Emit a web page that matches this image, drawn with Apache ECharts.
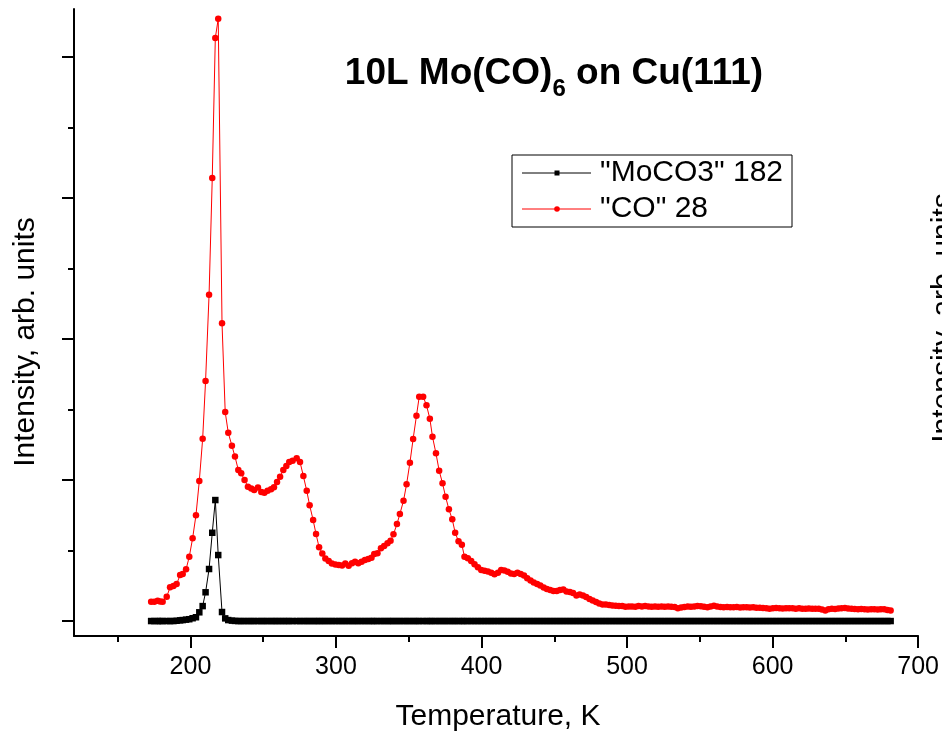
<!DOCTYPE html>
<html><head><meta charset="utf-8">
<script src="https://cdn.jsdelivr.net/npm/echarts@6/dist/echarts.min.js"></script>
<style>html,body{margin:0;padding:0;background:#fff}#c{width:942px;height:734px}</style>
</head><body><div id="c"></div>
<script>
const temperatures = [
173.0,175.2,177.5,179.2,180.9,183.7,186.0,188.3,190.5,192.9,
194.7,197.0,199.2,201.5,203.8,206.1,208.4,210.4,212.8,215.0,
217.1,219.1,221.7,223.9,226.0,228.5,230.6,232.9,234.9,237.2,
239.5,241.8,243.8,246.4,248.7,250.8,253.0,255.4,257.4,259.5,
261.6,263.8,265.9,267.9,270.2,273.0,275.3,277.6,279.9,281.9,
284.3,286.3,288.4,290.6,292.7,295.0,297.2,299.6,301.9,304.2,
306.4,308.7,311.0,313.1,315.3,317.6,319.9,322.2,324.4,326.3,
328.5,330.9,333.1,335.4,337.5,339.5,341.9,343.9,346.4,348.5,
350.8,353.0,355.3,357.2,359.9,362.2,364.5,366.3,368.7,370.9,
373.2,375.3,377.6,379.9,381.9,384.2,386.5,388.3,390.6,392.9,
395.2,397.5,399.8,402.1,404.4,406.7,408.9,411.3,
413.5,415.7,418.0,420.2,422.4,424.7,426.9,429.2,431.4,433.7,
435.9,438.2,440.4,442.7,444.9,447.2,449.4,451.7,453.9,456.2,
458.4,460.7,462.9,465.2,467.4,469.7,471.9,474.2,476.4,478.7,
480.9,483.2,485.4,487.7,489.9,492.2,494.4,496.7,498.9,501.2,
503.4,505.7,507.9,510.2,512.4,514.7,516.9,519.2,521.4,523.7,
525.9,528.2,530.4,532.7,534.9,537.2,539.4,541.7,543.9,546.2,
548.4,550.7,552.9,555.2,557.4,559.7,561.9,564.2,566.4,568.7,
570.9,573.2,575.4,577.7,579.9,582.2,584.4,586.7,588.9,591.2,
593.4,595.7,597.9,600.2,602.4,604.7,606.9,609.2,611.4,613.7,
615.9,618.2,620.4,622.7,624.9,627.2,629.4,631.7,633.9,636.2,
638.4,640.7,642.9,645.2,647.4,649.7,651.9,654.2,656.4,658.7,
660.9,663.2,665.4,667.7,669.9,672.2,674.4,676.7,678.9,681.1
];
const coIntensity = [
0.137,0.137,0.144,0.138,0.137,0.172,0.239,0.248,0.262,0.326,
0.333,0.367,0.456,0.587,0.750,0.993,1.293,1.702,2.314,3.142,
4.135,4.270,2.111,1.482,1.335,1.243,1.166,1.071,1.048,1.000,
0.952,0.940,0.929,0.947,0.915,0.910,0.924,0.934,0.948,0.986,
1.023,1.071,1.099,1.128,1.137,1.154,1.128,1.028,0.924,0.821,
0.716,0.617,0.523,0.479,0.443,0.426,0.408,0.401,0.397,0.394,
0.408,0.392,0.409,0.421,0.409,0.421,0.433,0.440,0.449,0.475,
0.480,0.516,0.532,0.551,0.570,0.615,0.688,0.759,0.853,0.970,
1.123,1.291,1.456,1.591,1.591,1.530,1.435,1.307,1.189,1.066,
0.977,0.882,0.792,0.721,0.626,0.565,0.541,0.456,0.445,0.426,
0.402,0.381,0.362,0.357,0.352,0.343,0.331,0.343,
0.362,0.358,0.350,0.337,0.333,0.343,0.333,0.323,0.303,0.287,
0.273,0.262,0.252,0.238,0.227,0.220,0.213,0.213,0.220,0.223,
0.209,0.206,0.199,0.181,0.188,0.181,0.170,0.156,0.145,0.135,
0.124,0.118,0.117,0.113,0.110,0.109,0.106,0.106,0.101,0.103,
0.104,0.101,0.106,0.103,0.106,0.104,0.101,0.103,0.101,0.104,
0.101,0.103,0.101,0.099,0.090,0.096,0.099,0.103,0.101,0.104,
0.106,0.105,0.101,0.097,0.103,0.109,0.103,0.099,0.097,0.099,
0.097,0.097,0.099,0.096,0.097,0.097,0.096,0.098,0.094,0.095,
0.092,0.090,0.087,0.090,0.092,0.090,0.089,0.091,0.090,0.090,
0.088,0.090,0.087,0.087,0.089,0.087,0.088,0.087,0.082,0.074,
0.083,0.087,0.086,0.089,0.090,0.092,0.089,0.087,0.085,0.083,
0.085,0.083,0.082,0.084,0.083,0.082,0.083,0.083,0.079,0.074
];
const mocoIntensity = [
0,0,0,0,0,0,0,0,0.002,0.005,
0.007,0.010,0.013,0.020,0.027,0.062,0.106,0.204,0.369,0.626,
0.858,0.468,0.064,0.019,0.007,0.003,0.001,0,0,0,
0,0,0,0,0,0,0,0,0,0,
0,0,0,0,0,0,0,0,0,0,
0,0,0,0,0,0,0,0,0,0,
0,0,0,0,0,0,0,0,0,0,
0,0,0,0,0,0,0,0,0,0,
0,0,0,0,0,0,0,0,0,0,
0,0,0,0,0,0,0,0,0,0,
0,0,0,0,0,0,0,0,
0,0,0,0,0,0,0,0,0,0,
0,0,0,0,0,0,0,0,0,0,
0,0,0,0,0,0,0,0,0,0,
0,0,0,0,0,0,0,0,0,0,
0,0,0,0,0,0,0,0,0,0,
0,0,0,0,0,0,0,0,0,0,
0,0,0,0,0,0,0,0,0,0,
0,0,0,0,0,0,0,0,0,0,
0,0,0,0,0,0,0,0,0,0,
0,0,0,0,0,0,0,0,0,0,
0,0,0,0,0,0,0,0,0,0,
0,0,0,0,0,0,0,0,0,0
];
const xMajorTicks = [200,300,400,500,600,700];
const xMinorTicks = [150,250,350,450,550,650];
const yMajorTicks = [0,1,2,3,4];
const yMinorTicks = [0.5,1.5,2.5,3.5];
const seriesNames = ['"MoCO3" 182', '"CO" 28'];
const titleParts = ['10L Mo(CO)', '6', ' on Cu(111)'];
const xTitle = 'Temperature, K';
const yTitle = 'Intensity, arb. units';

const FF = '"Liberation Sans", Arial, Helvetica, sans-serif';
const chart = echarts.init(document.getElementById('c'), null, {renderer: 'canvas'});
const xRange = {min: 120, max: 700};
const yRange = {min: -0.106, max: 4.34};
const axisCommon = {
  type: 'value', splitLine: {show: false}, scale: false
};
const option = {
  animation: false,
  backgroundColor: '#fff',
  grid: {left: 74, right: 22, top: 9, bottom: 98, containLabel: false},
  xAxis: [
    Object.assign({}, axisCommon, xRange, {
      position: 'bottom',
      axisLine: {show: true, onZero: false, lineStyle: {color: '#000', width: 2}},
      axisTick: {show: true, customValues: xMajorTicks, length: 12, inside: false, lineStyle: {color: '#000', width: 2}},
      axisLabel: {show: true, customValues: xMajorTicks, fontSize: 25, color: '#000', fontFamily: FF, margin: 19}
    }),
    Object.assign({}, axisCommon, xRange, {
      position: 'bottom',
      axisLine: {show: false, onZero: false},
      axisTick: {show: true, customValues: xMinorTicks, length: 6, inside: false, lineStyle: {color: '#000', width: 2}},
      axisLabel: {show: false}
    })
  ],
  yAxis: [
    Object.assign({}, axisCommon, yRange, {
      position: 'left',
      axisLine: {show: true, onZero: false, lineStyle: {color: '#000', width: 2}},
      axisTick: {show: true, customValues: yMajorTicks, length: 12, inside: false, lineStyle: {color: '#000', width: 2}},
      axisLabel: {show: false}
    }),
    Object.assign({}, axisCommon, yRange, {
      position: 'left', offset: 0,
      axisLine: {show: false, onZero: false},
      axisTick: {show: true, customValues: yMinorTicks, length: 6, inside: false, lineStyle: {color: '#000', width: 2}},
      axisLabel: {show: false}
    })
  ],
  series: [
    {
      name: seriesNames[0], type: 'line', xAxisIndex: 0, yAxisIndex: 0,
      data: temperatures.map((t, i) => [t, mocoIntensity[i]]),
      symbol: 'rect', symbolSize: 6.5, showSymbol: true, showAllSymbol: true,
      lineStyle: {color: '#000', width: 1}, itemStyle: {color: '#000'},
      emphasis: {disabled: true}, z: 2
    },
    {
      name: seriesNames[1], type: 'line', xAxisIndex: 0, yAxisIndex: 0,
      data: temperatures.map((t, i) => [t, coIntensity[i]]),
      symbol: 'circle', symbolSize: 6.5, showSymbol: true, showAllSymbol: true,
      lineStyle: {color: '#ff0000', width: 1}, itemStyle: {color: '#ff0000'},
      emphasis: {disabled: true}, z: 3
    }
  ],
  graphic: [
    {
      type: 'text', x: 554, y: 74,
      style: {
        text: '{a|' + titleParts[0] + '}{s|' + titleParts[1] + '}{a|' + titleParts[2] + '}',
        align: 'center', verticalAlign: 'middle', textAlign: 'center', textVerticalAlign: 'middle',
        rich: {
          a: {fontSize: 37, fontWeight: 'bold', fontFamily: FF, fill: '#000', lineHeight: 54},
          s: {fontSize: 24, fontWeight: 'bold', fontFamily: FF, fill: '#000', lineHeight: 20, verticalAlign: 'bottom'}
        }
      }
    },
    {
      type: 'text', x: 498, y: 717,
      style: {text: xTitle, fontSize: 30, fontFamily: FF, fill: '#000',
        align: 'center', verticalAlign: 'middle', textAlign: 'center', textVerticalAlign: 'middle'}
    },
    {
      type: 'text', x: 26, y: 342, rotation: Math.PI / 2,
      style: {text: yTitle, fontSize: 30, fontFamily: FF, fill: '#000',
        align: 'center', verticalAlign: 'middle', textAlign: 'center', textVerticalAlign: 'middle'}
    },
    {
      type: 'text', x: 944, y: 318, rotation: Math.PI / 2,
      style: {text: yTitle, fontSize: 30, fontFamily: FF, fill: '#000',
        align: 'center', verticalAlign: 'middle', textAlign: 'center', textVerticalAlign: 'middle'}
    },
    {
      type: 'rect', shape: {x: 512, y: 155, width: 280, height: 72},
      style: {fill: '#fff', stroke: '#000', lineWidth: 1}
    },
    {type: 'line', shape: {x1: 522, y1: 173, x2: 591, y2: 173}, style: {stroke: '#000', lineWidth: 1}},
    {type: 'rect', shape: {x: 554.5, y: 170.5, width: 5, height: 5}, style: {fill: '#000'}},
    {type: 'text', x: 600, y: 173, style: {text: seriesNames[0], fontSize: 30, fontFamily: FF, fill: '#000',
      align: 'left', verticalAlign: 'middle', textAlign: 'left', textVerticalAlign: 'middle'}},
    {type: 'line', shape: {x1: 522, y1: 209, x2: 591, y2: 209}, style: {stroke: '#ff0000', lineWidth: 1}},
    {type: 'circle', shape: {cx: 557, cy: 209, r: 2.8}, style: {fill: '#ff0000'}},
    {type: 'text', x: 600, y: 209, style: {text: seriesNames[1], fontSize: 30, fontFamily: FF, fill: '#000',
      align: 'left', verticalAlign: 'middle', textAlign: 'left', textVerticalAlign: 'middle'}}
  ]
};
chart.setOption(option);
</script>
</body></html>
